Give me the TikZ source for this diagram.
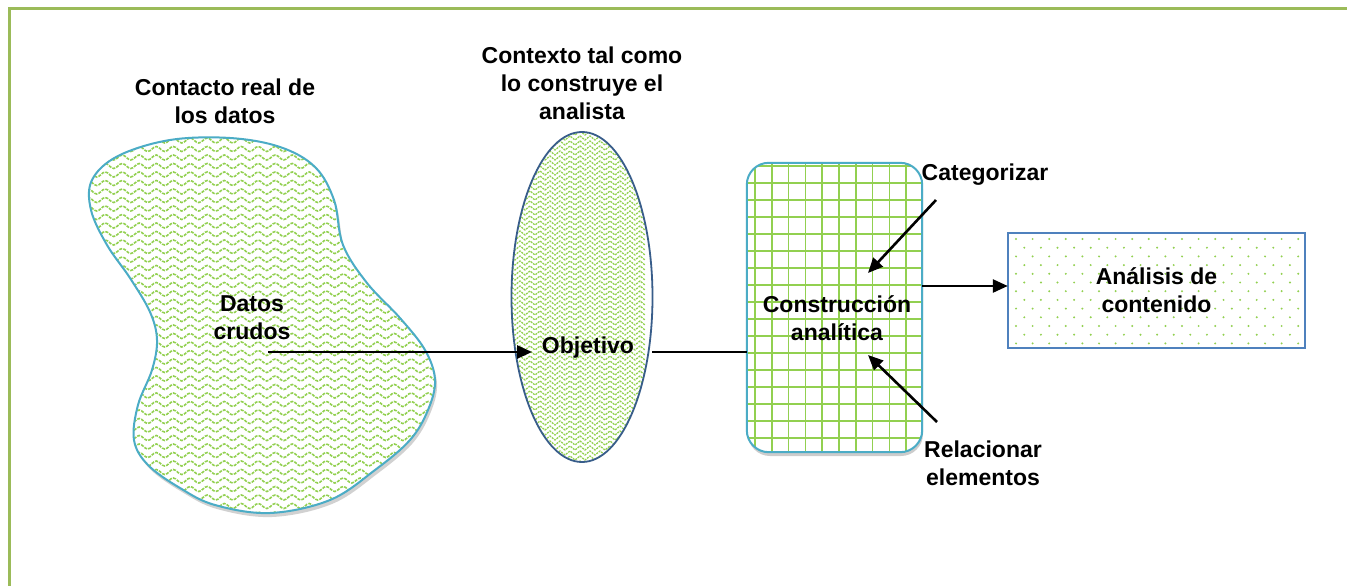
\documentclass[tikz,border=0pt]{standalone}
\usepackage{fontspec}
\setmainfont{Liberation Sans}
\usetikzlibrary{shapes.geometric,arrows.meta,shadows}
\definecolor{framegreen}{HTML}{9BBB59}
\definecolor{patgreen}{HTML}{92D050}
\definecolor{ltblue}{HTML}{4BACC6}
\definecolor{dkblue}{HTML}{385D8A}
\definecolor{boxblue}{HTML}{4F81BD}
\begin{document}
\begin{tikzpicture}[x=1pt,y=-1pt,
  lbl/.style={font=\fontsize{23}{28}\selectfont\bfseries, align=center, inner sep=0pt},
  arr/.style={line width=2.6pt, -{Triangle[length=15pt,width=13pt]}},
  conn/.style={line width=2.6pt},
  wave/.style={patgreen, line width=1.6pt, dash pattern=on 3pt off 1.2pt},
  zig/.style={patgreen, line width=1.3pt, dash pattern=on 2pt off 1pt},
  gridline/.style={patgreen, line width=1.7pt},
]
\useasboundingbox (0,0) rectangle (1347,586);
\fill[white] (0,0) rectangle (1347,586);
\draw[framegreen, line width=3pt] (9,600) -- (9,9) -- (1360,9);

% ---- blob
\def\blobpath{plot[smooth cycle, tension=0.6] coordinates {(170,140) (230,138) (280,147) (315,167) (334,200) (343,245) (367,283) (400,318) (425,350) (435,380) (428,410) (410,440) (375,470) (330,500) (270,513) (215,505) (180,488) (148,465) (134,440) (138,405) (152,370) (157,340) (150,312) (130,278) (107,245) (91,210) (92,180) (118,156)}}
\fill[black, opacity=0.18, shift={(2,4)}] \blobpath;
\fill[white] \blobpath;
\begin{scope}
  \clip \blobpath;
  \foreach \r in {0,...,46}
    \draw[wave] (84,{132+\r*8.5}) \foreach \k in {0,...,21} { sin ++(4.25,-2.5) cos ++(4.25,2.5) sin ++(4.25,2.5) cos ++(4.25,-2.5) };
\end{scope}
\draw[ltblue, line width=2pt] \blobpath;

% ---- ellipse
\node[ellipse, fill=white, minimum width=141pt, minimum height=330pt, inner sep=0pt] (obj) at (582,297) {};
\begin{scope}
  \clip (obj.center) ellipse [x radius=70.5, y radius=165];
  \foreach \r in {0,...,68}
    \draw[zig] (505,{125+\r*5}) \foreach \k in {0,...,13} { -- ++(5,-4) -- ++(5,4) };
\end{scope}
\draw[dkblue, line width=1.8pt] (obj.center) ellipse [x radius=70.5, y radius=165];

% ---- rounded rectangle
\node[rounded corners=22pt, fill=white, minimum width=175pt, minimum height=289pt, inner sep=0pt,
  drop shadow={shadow xshift=1pt, shadow yshift=-4pt, opacity=0.2, fill=black}] (cons) at (834.5,307.5) {};
\begin{scope}
  \clip[rounded corners=22pt] (cons.north west) rectangle (cons.south east);
  \foreach \i in {0,...,10} \draw[gridline] ({755+\i*16.8},150) -- ++(0,320);
  \foreach \j in {0,...,17} \draw[gridline] (740,{166+\j*17}) -- ++(200,0);
\end{scope}
\draw[ltblue, line width=2pt, rounded corners=22pt] (cons.north west) rectangle (cons.south east);

% ---- box
\node[fill=white, minimum width=297pt, minimum height=115pt, inner sep=0pt] (ana) at (1156.5,290.5) {};
\begin{scope}
  \clip (ana.north west) rectangle (ana.south east);
  \foreach \r in {0,...,12} \foreach \c in {0,...,18}
    \fill[patgreen] ({1016+\c*16.6+mod(\r,2)*8.3},{239+\r*8.7}) circle (1.1pt);
\end{scope}
\draw[boxblue, line width=1.8pt] (ana.north west) rectangle (ana.south east);
\node[lbl] (anat) at (ana.center) {Análisis de\\contenido};

% ---- labels
\node[lbl] (t1) at (225,101) {Contacto real de\\los datos};
\node[lbl] (t2) at (582,83) {Contexto tal como\\lo construye el\\analista};
\node[lbl] (datos) at (252,318) {Datos\\crudos};
\node[lbl] (objt) at (588,348) {Objetivo};
\node[lbl] (const) at (837,318) {Construcción\\analítica};
\node[lbl] (cat) at (985,175) {Categorizar};
\node[lbl] (rel) at (983,463) {Relacionar\\elementos};

% ---- connectors
\coordinate (dstart) at (268,352);
\coordinate (oin) at (532,352);
\coordinate (oout) at (652,352);
\coordinate (c1) at (922,286);
\coordinate (catS) at (936,200);
\coordinate (catE) at (868,273);
\coordinate (relS) at (937,422);
\coordinate (relE) at (868,355);
\draw[arr] (dstart) -- (oin);
\draw[conn] (oout) -- (cons.west |- oout);
\draw[arr] (c1) -- (ana.west |- c1);
\draw[arr] (catS) -- (catE);
\draw[arr] (relS) -- (relE);
\end{tikzpicture}
\end{document}
